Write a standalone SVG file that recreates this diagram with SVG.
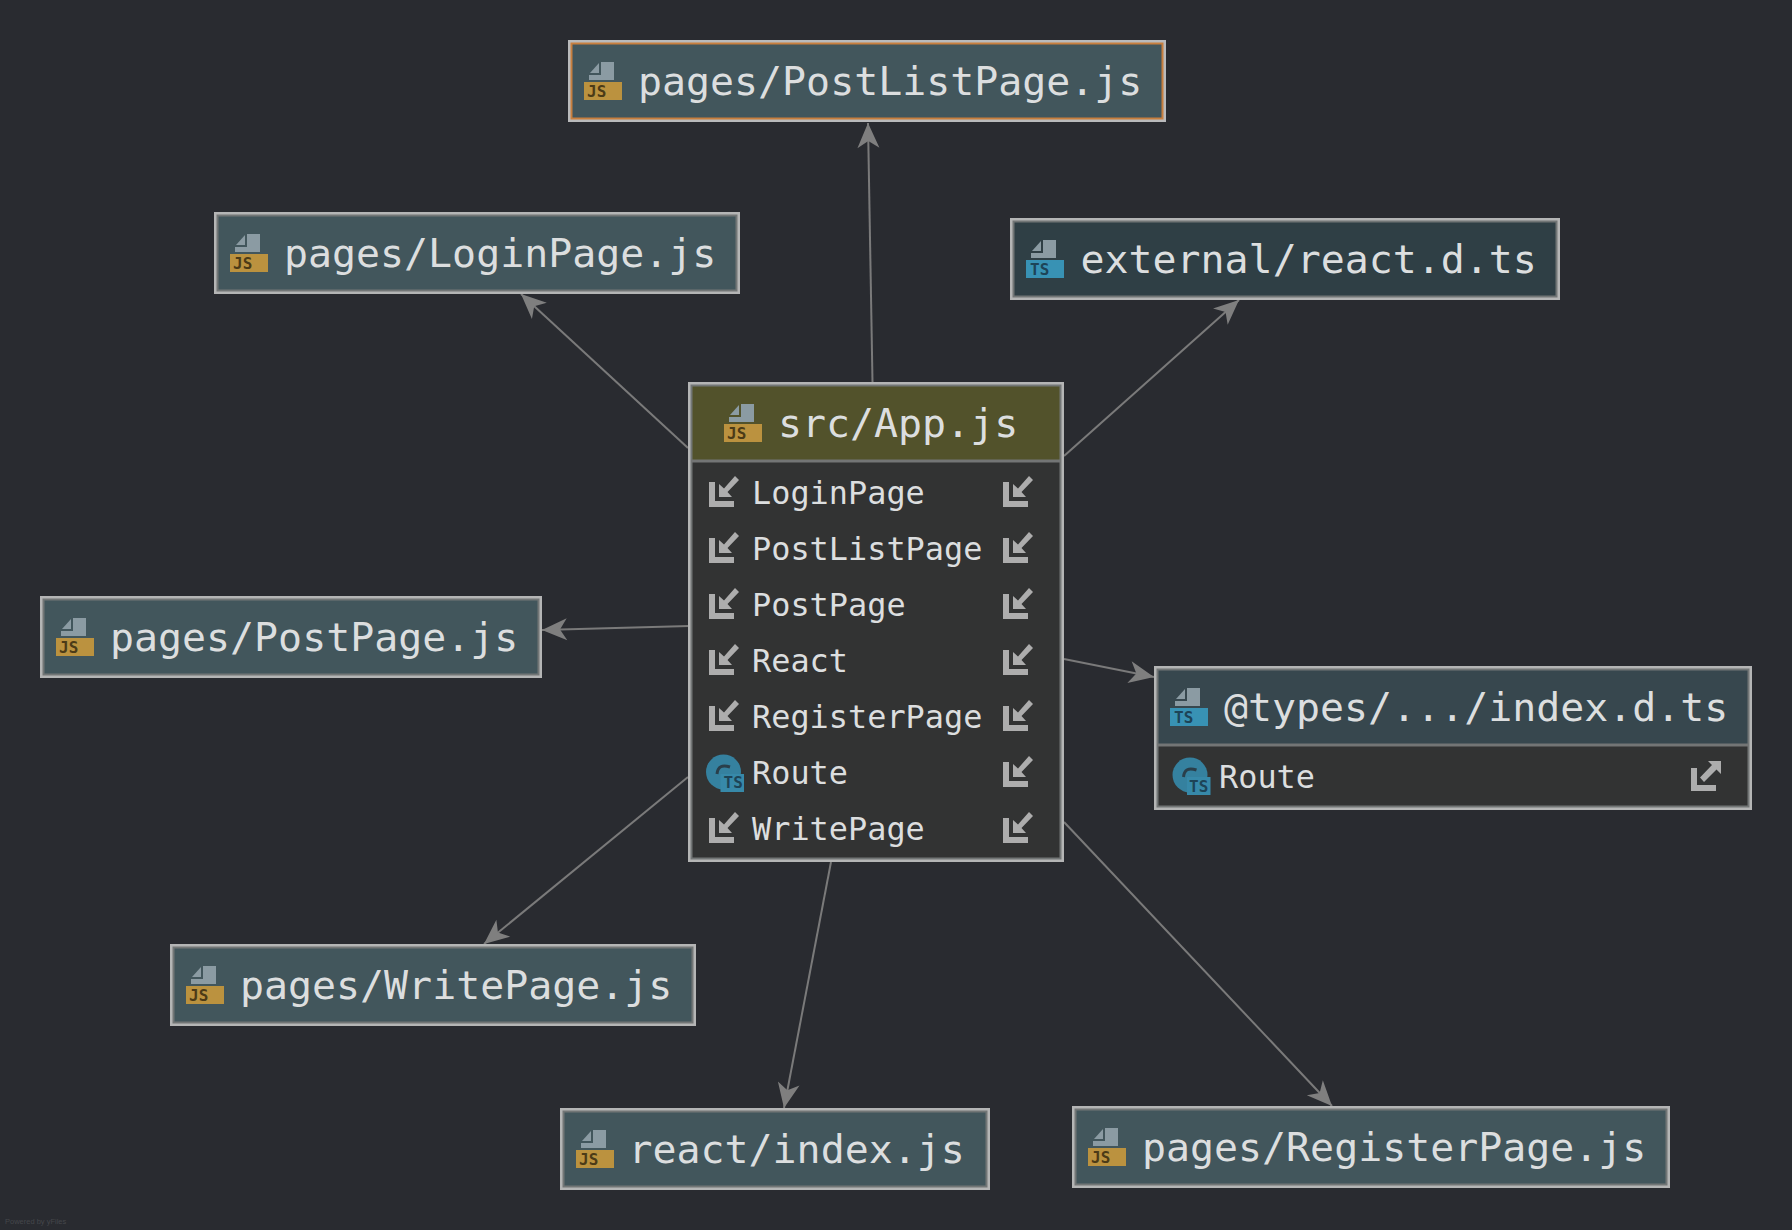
<svg xmlns="http://www.w3.org/2000/svg" width="1792" height="1230" viewBox="0 0 1792 1230">
<style>
.outer{fill:none;stroke:#b4b5b5;stroke-width:3}
.inner{fill:none;stroke:#727676;stroke-width:2}
.js{fill:#42565c}
.ts1{fill:#2f3f45}
.ts2{fill:#37474e}
.hd{fill:#52522b}
.body{fill:#323333}
.div{stroke:#737575;stroke-width:3}
text{font-family:"DejaVu Sans Mono","Liberation Mono",monospace;fill:#dcdedf}
.t{font-size:39.9px}
.r{font-size:31.9px}
.badge{font-size:16px;font-weight:bold}
.bj{fill:#4c3b17}
.bt{fill:#1d4457}
.edge{stroke:#7a7a7a;stroke-width:2;fill:none}
.head{fill:#7f7f7f}
.g{fill:#8b9ba3}
.ar{fill:#adadad}
</style>
<defs>
<g id="file">
<path class="g" d="M17 0H30V18H5V13H17Z"/>
<path class="g" d="M15 1V11H6Z"/>
</g>
<g id="jsicon">
<use href="#file"/>
<rect y="20" width="38" height="18" fill="#bb923f"/>
</g>
<g id="tsicon">
<use href="#file"/>
<rect y="20" width="38" height="18" fill="#3892b4"/>
</g>
<g id="imp">
<path class="ar" d="M0 6H6V25H25V31H0Z"/>
<path class="ar" d="M10 8L15 12.500L26 0L30 4L18.500 16L23 21H10Z"/>
</g>
<g id="exp">
<path class="ar" d="M0 7H6V24H25V30H0Z"/>
<path class="ar" d="M30 0V13L25.500 8.500L13 21L9 16.500L21 4L17 0Z"/>
</g>
<g id="circ">
<circle cx="17.500" cy="17" r="17.500" fill="#35819f"/>
<path d="M24 12Q12 8 11 19" fill="none" stroke="#2a3f4b" stroke-width="3"/>
<rect x="14.500" y="19" width="23.500" height="18" fill="#3789a9"/>
</g>
<marker id="ah" markerUnits="userSpaceOnUse" viewBox="-26 -12 28 24" markerWidth="28" markerHeight="24" refX="0" refY="0" orient="auto">
<path class="head" d="M0 0L-25 -11L-18 0L-25 11Z"/>
</marker>
</defs>
<rect width="1792" height="1230" fill="#292b30"/>
<g id="connectors">
<line class="edge" marker-end="url(#ah)" x1="872.500" y1="382" x2="868" y2="123"/>
<line class="edge" marker-end="url(#ah)" x1="688" y1="448" x2="521" y2="294"/>
<line class="edge" marker-end="url(#ah)" x1="1064" y1="456" x2="1239" y2="300"/>
<line class="edge" marker-end="url(#ah)" x1="689" y1="626" x2="542" y2="630"/>
<line class="edge" marker-end="url(#ah)" x1="1064" y1="659" x2="1154" y2="677"/>
<line class="edge" marker-end="url(#ah)" x1="688" y1="777" x2="484" y2="944"/>
<line class="edge" marker-end="url(#ah)" x1="831" y1="862" x2="784" y2="1108"/>
<line class="edge" marker-end="url(#ah)" x1="1064" y1="822" x2="1332" y2="1106"/>
</g>
<g id="node-postlist">
<rect class="js" x="569" y="41" width="596" height="80"/>
<rect x="569.500" y="41.500" width="595" height="79" fill="none" stroke="#b9babb" stroke-width="3"/>
<rect x="571.500" y="43.500" width="591" height="75" fill="none" stroke="#c87f3e" stroke-width="2"/>
<use href="#jsicon" x="584" y="62"/>
<text class="badge bj" x="587" y="97">JS</text>
<text class="t" x="638" y="95">pages/PostListPage.js</text>
</g>
<g id="node-login">
<rect class="js" x="215" y="213" width="524" height="80"/>
<rect class="outer" x="215.500" y="213.500" width="523" height="79"/>
<rect class="inner" x="217.500" y="215.500" width="519" height="75"/>
<use href="#jsicon" x="230" y="234"/>
<text class="badge bj" x="233" y="269">JS</text>
<text class="t" x="284" y="267">pages/LoginPage.js</text>
</g>
<g id="node-external">
<rect class="ts1" x="1011" y="219" width="548" height="80"/>
<rect class="outer" x="1011.500" y="219.500" width="547" height="79"/>
<rect class="inner" x="1013.500" y="221.500" width="543" height="75"/>
<use href="#tsicon" x="1026" y="240"/>
<text class="badge bt" x="1030" y="275">TS</text>
<text class="t" x="1080.500" y="273">external/react.d.ts</text>
</g>
<g id="node-app">
<rect class="body" x="689" y="383" width="374" height="478"/>
<rect class="hd" x="690" y="385" width="372" height="76"/>
<rect class="outer" x="689.500" y="383.500" width="373" height="477"/>
<rect class="inner" x="691.500" y="385.500" width="369" height="473"/>
<line class="div" x1="691" y1="461" x2="1061" y2="461"/>
<use href="#jsicon" x="724" y="404"/>
<text class="badge bj" x="727" y="439">JS</text>
<text class="t" x="778" y="437">src/App.js</text>
<use href="#imp" x="709" y="476"/><text class="r" x="752" y="504">LoginPage</text><use href="#imp" x="1003" y="476"/>
<use href="#imp" x="709" y="532"/><text class="r" x="752" y="560">PostListPage</text><use href="#imp" x="1003" y="532"/>
<use href="#imp" x="709" y="588"/><text class="r" x="752" y="616">PostPage</text><use href="#imp" x="1003" y="588"/>
<use href="#imp" x="709" y="644"/><text class="r" x="752" y="672">React</text><use href="#imp" x="1003" y="644"/>
<use href="#imp" x="709" y="700"/><text class="r" x="752" y="728">RegisterPage</text><use href="#imp" x="1003" y="700"/>
<use href="#circ" x="706" y="755"/><text class="badge bt" x="723.500" y="788">TS</text><text class="r" x="752" y="784">Route</text><use href="#imp" x="1003" y="756"/>
<use href="#imp" x="709" y="812"/><text class="r" x="752" y="840">WritePage</text><use href="#imp" x="1003" y="812"/>
</g>
<g id="node-postpage">
<rect class="js" x="41" y="597" width="500" height="80"/>
<rect class="outer" x="41.500" y="597.500" width="499" height="79"/>
<rect class="inner" x="43.500" y="599.500" width="495" height="75"/>
<use href="#jsicon" x="56" y="618"/>
<text class="badge bj" x="59" y="653">JS</text>
<text class="t" x="110" y="651">pages/PostPage.js</text>
</g>
<g id="node-types">
<rect class="body" x="1155" y="667" width="596" height="142"/>
<rect class="ts2" x="1156" y="668" width="594" height="77"/>
<rect class="outer" x="1155.500" y="667.500" width="595" height="141"/>
<rect class="inner" x="1157.500" y="669.500" width="591" height="137"/>
<line class="div" x1="1157" y1="745" x2="1749" y2="745"/>
<use href="#tsicon" x="1170" y="688"/>
<text class="badge bt" x="1174" y="723">TS</text>
<text class="t" x="1224" y="721">@types/.../index.d.ts</text>
<use href="#circ" x="1172.500" y="758"/><text class="badge bt" x="1189" y="791.500">TS</text>
<text class="r" x="1219" y="788">Route</text>
<use href="#exp" x="1691" y="761"/>
</g>
<g id="node-write">
<rect class="js" x="171" y="945" width="524" height="80"/>
<rect class="outer" x="171.500" y="945.500" width="523" height="79"/>
<rect class="inner" x="173.500" y="947.500" width="519" height="75"/>
<use href="#jsicon" x="186" y="966"/>
<text class="badge bj" x="189" y="1001">JS</text>
<text class="t" x="240" y="999">pages/WritePage.js</text>
</g>
<g id="node-react">
<rect class="js" x="561" y="1109" width="428" height="80"/>
<rect class="outer" x="561.500" y="1109.500" width="427" height="79"/>
<rect class="inner" x="563.500" y="1111.500" width="423" height="75"/>
<use href="#jsicon" x="576" y="1130"/>
<text class="badge bj" x="579" y="1165">JS</text>
<text class="t" x="630" y="1163" transform="translate(-1.500 0)">react/index.js</text>
</g>
<g id="node-register">
<rect class="js" x="1073" y="1107" width="596" height="80"/>
<rect class="outer" x="1073.500" y="1107.500" width="595" height="79"/>
<rect class="inner" x="1075.500" y="1109.500" width="591" height="75"/>
<use href="#jsicon" x="1088" y="1128"/>
<text class="badge bj" x="1091" y="1163">JS</text>
<text class="t" x="1142" y="1161">pages/RegisterPage.js</text>
</g>
<text x="5" y="1224" style="font-family:'Liberation Sans',sans-serif;font-size:7.500px;fill:#45474b">Powered by yFiles</text>
</svg>
